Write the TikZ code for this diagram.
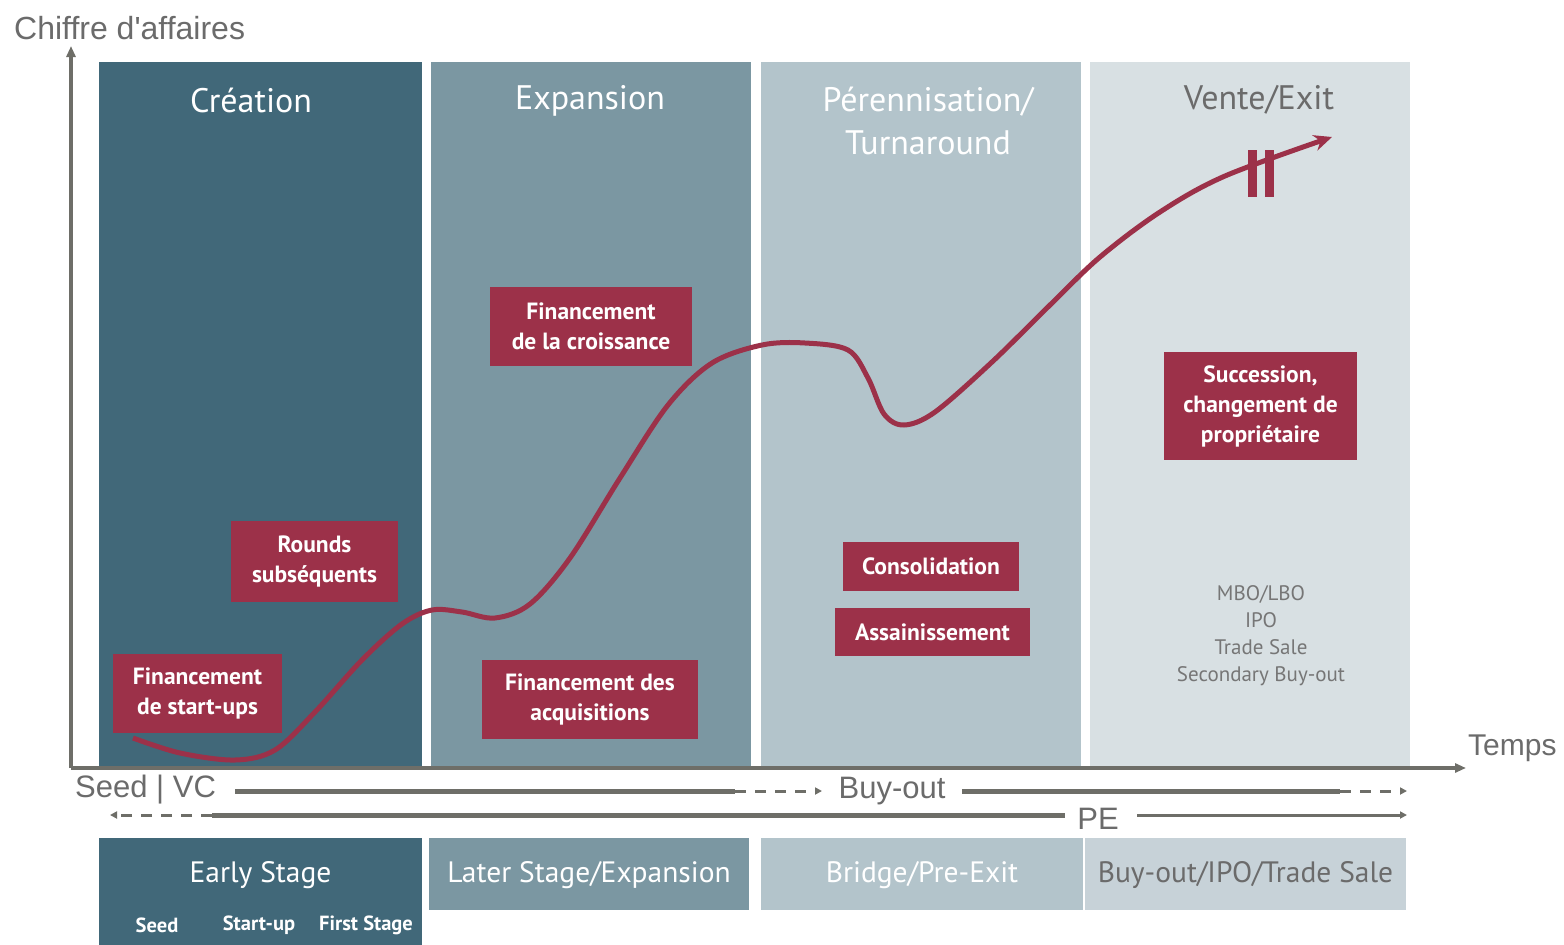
\documentclass[tikz,border=0pt]{standalone}
\usepackage{fontspec}
\setmainfont{PT Sans}
\newfontfamily\arialf{Liberation Sans}
\usetikzlibrary{arrows.meta}
\definecolor{cDark}{HTML}{416879}
\definecolor{cMid}{HTML}{7B97A2}
\definecolor{cLight}{HTML}{B3C4CB}
\definecolor{cPale}{HTML}{D8E0E3}
\definecolor{cPale2}{HTML}{C7D2D8}
\definecolor{cRed}{HTML}{9C3149}
\definecolor{cAxis}{HTML}{6E6E68}
\definecolor{cText}{HTML}{6B6B6B}
\definecolor{cSmall}{HTML}{767676}
\tikzset{
  redbox/.style={fill=cRed, text=white, align=center, inner sep=0pt,
    font=\bfseries\fontsize{23.5}{30}\selectfont},
  title/.style={text=white, align=center, font=\fontsize{34}{43}\selectfont},
  bottomlbl/.style={font=\fontsize{29.5}{32}\selectfont, text=white},
  sublbl/.style={font=\bfseries\fontsize{20.5}{22}\selectfont, text=white},
  axislbl/.style={font=\arialf\fontsize{31}{34}\selectfont, text=cText},
  axisline/.style={draw=cAxis, line width=3.5pt},
  thickline/.style={draw=cAxis, line width=5pt},
  dashline/.style={draw=cAxis, line width=3pt, dash pattern=on 11pt off 9pt},
  smalltip/.style={-{Triangle[length=7pt,width=7pt]}},
}
\begin{document}
\begin{tikzpicture}[x=1pt,y=-1pt]
\useasboundingbox[fill=white] (0,0) rectangle (1564,945);
% panels
\fill[cDark] (99,62) rectangle (422,768);
\fill[cMid] (431,62) rectangle (751,768);
\fill[cLight] (761,62) rectangle (1081,768);
\fill[cPale] (1090,62) rectangle (1410,768);
% titles
\node[title] (tcre) at (251,100) {Création};
\node[title] (texp) at (590,101) {Expansion};
\node[title] (tper) at (928,121) {Pérennisation/\\Turnaround};
\node[title, text=cText] (tven) at (1259,100) {Vente/Exit};
% axes
\coordinate (orig) at (71,768);
\coordinate (ytip) at (71,46);
\coordinate (xtip) at (1466,768);
\draw[axisline, -{Triangle[length=11pt,width=9pt]}] (orig) -- (ytip);
\draw[axisline, -{Triangle[length=11pt,width=9pt]}] (orig) -- (xtip);
\node[axislbl, anchor=west, inner sep=0pt, font=\arialf\fontsize{32}{34}\selectfont] (ylbl) at (14,28) {Chiffre d\textquotesingle affaires};
\node[axislbl, anchor=west, inner sep=0pt, font=\arialf\fontsize{30}{34}\selectfont] (xlbl) at (1468,748) {Temps};
% curve
\draw[cRed, line width=5pt, -{Stealth[length=18pt,width=16pt]}]
  plot[smooth, tension=0.55] coordinates {
   (133,738) (180,753) (235,760) (275,750) (315,712) (362,660) (402,624) (432,610)
   (462,612) (495,618) (530,604) (570,558) (620,478) (668,405) (712,363) (762,345)
   (805,343) (848,350) (868,378) (884,414) (904,425) (935,412) (992,362) (1050,305)
   (1100,257) (1160,212) (1225,176) (1332,137)};
\fill[cRed] (1248,150) rectangle (1257,197);
\fill[cRed] (1265,150) rectangle (1274,197);
% red boxes
\node[redbox, minimum width=202pt, minimum height=79pt] (bcroiss) at (591,326.5) {Financement\\de la croissance};
\node[redbox, minimum width=167pt, minimum height=81pt] (brounds) at (314.5,561.5) {Rounds\\subséquents};
\node[redbox, minimum width=169pt, minimum height=79pt] (bstart) at (197.5,693.5) {Financement\\de start-ups};
\node[redbox, minimum width=216pt, minimum height=79pt] (bacq) at (590,699.5) {Financement des\\acquisitions};
\node[redbox, minimum width=176pt, minimum height=49pt] (bcons) at (931,566.5) {Consolidation};
\node[redbox, minimum width=195pt, minimum height=48pt] (bass) at (932.5,632) {Assainissement};
\node[redbox, minimum width=193pt, minimum height=108pt] (bsucc) at (1260.5,406) {Succession,\\changement de\\propriétaire};
\node[align=center, text=cSmall, font=\fontsize{21}{27}\selectfont] (exits) at (1261,636) {MBO/LBO\\IPO\\Trade Sale\\Secondary Buy-out};
% bottom lines
\node[axislbl, anchor=west, inner sep=0pt] (seedvc) at (75,790) {Seed | VC};
\node[axislbl, inner sep=0pt] (buyout) at (892,791) {Buy-out};
\node[axislbl, inner sep=0pt] (pe) at (1098,819) {PE};
\coordinate (r1a) at (235,791);
\coordinate (r1b) at (735,791);
\coordinate (r1c) at (822,791);
\coordinate (r1d) at (962,791);
\coordinate (r1e) at (1340,791);
\coordinate (r1f) at (1407,791);
\coordinate (r2a) at (110,815);
\coordinate (r2b) at (212,815);
\coordinate (r2c) at (1065,815);
\coordinate (r2d) at (1137,815);
\coordinate (r2e) at (1407,815);
\draw[thickline] (r1a) -- (r1b);
\draw[dashline, smalltip] (r1b) -- (r1c);
\draw[thickline] (r1d) -- (r1e);
\draw[dashline, smalltip] (r1e) -- (r1f);
\draw[dashline, smalltip] (r2b) -- (r2a);
\draw[thickline] (r2b) -- (r2c);
\draw[draw=cAxis, line width=3pt, smalltip] (r2d) -- (r2e);
% bottom boxes
\fill[cDark] (99,838) rectangle (422,945);
\fill[cMid] (429,838) rectangle (749,910);
\fill[cLight] (761,838) rectangle (1083,910);
\fill[cPale2] (1085,838) rectangle (1406,910);
\node[bottomlbl] (early) at (260.5,875) {Early Stage};
\node[bottomlbl] (later) at (589,875) {Later Stage/Expansion};
\node[bottomlbl] (bridge) at (922,875) {Bridge/Pre-Exit};
\node[bottomlbl, text=cText] (bios) at (1245.5,875) {Buy-out/IPO/Trade Sale};
\node[sublbl] (sseed) at (157,925) {Seed};
\node[sublbl] (sstart) at (259,925) {Start-up};
\node[sublbl] (sfirst) at (366,925) {First Stage};
\end{tikzpicture}
\end{document}
